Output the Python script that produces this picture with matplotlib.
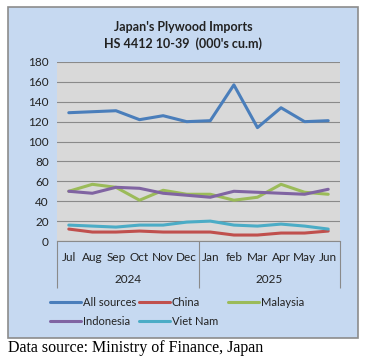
import matplotlib
matplotlib.use("Agg")
import matplotlib.pyplot as plt
from matplotlib.patches import Rectangle
from matplotlib.transforms import blended_transform_factory

# data (000's cu.m)
months = ["Jul", "Aug", "Sep", "Oct", "Nov", "Dec", "Jan", "feb", "Mar", "Apr", "May", "Jun"]
years = ["2024", "2025"]
all_sources = [129, 130, 131, 122, 126, 120, 121, 157, 114, 134, 120, 121]
china = [12, 9, 9, 10, 9, 9, 9, 6, 6, 8, 8, 10]
malaysia = [50, 57, 54, 41, 51, 47, 47, 41, 44, 57, 49, 47]
indonesia = [50, 48, 54, 53, 48, 46, 44, 50, 49, 48, 47, 52]
viet_nam = [16, 15, 14, 16, 16, 19, 20, 16, 15, 17, 15, 12]

series = [
    ("All sources", all_sources, "#4a7ebb"),
    ("China", china, "#c0504d"),
    ("Malaysia", malaysia, "#9bbb59"),
    ("Indonesia", indonesia, "#8064a2"),
    ("Viet Nam", viet_nam, "#4bacc6"),
]

plt.rcParams['font.family'] = ['Lato', 'DejaVu Sans']

fig = plt.figure(figsize=(3.79, 3.59), dpi=100)
fig.patch.set_facecolor("white")

# outer chart box
W, H = 379, 359
fig.patches.append(Rectangle((8 / W, 1 - 338 / H), 350 / W, 331 / H, transform=fig.transFigure,
                             facecolor="#c6d9f1", edgecolor="#8c8c8c", linewidth=1.2, zorder=-5))

ax = fig.add_axes([57 / W, 1 - 241 / H, 283 / W, 179 / H])
ax.set_zorder(2)
ax.set_facecolor("#d9d9d9")

x = list(range(len(months)))
lines = {}
for name, vals, col in series:
    lines[name], = ax.plot(x, vals, color=col, linewidth=2.2, solid_capstyle="round", label=name)

ax.set_xlim(-0.5, len(months) - 0.5)
ax.set_ylim(0, 180)
ax.set_yticks(range(0, 181, 20))
ax.yaxis.grid(True, color="#8a8a8a", linewidth=0.8)
ax.set_axisbelow(True)
for s in ["top", "right", "left"]:
    ax.spines[s].set_visible(False)
ax.spines["bottom"].set_color("#8a8a8a")
ax.tick_params(axis="y", length=0, pad=6, labelsize=8.5, colors="#222222")

# month labels as minor ticks, group separators as long major ticks
ax.set_xticks([-0.5, 5.5, 11.5])
ax.set_xticklabels(["", "", ""])
ax.tick_params(axis="x", which="major", length=34, color="#8a8a8a", width=0.8)
ax.set_xticks(x, minor=True)
ax.set_xticklabels(months, minor=True)
ax.tick_params(axis="x", which="minor", length=0, pad=8, labelsize=8.5, colors="#222222")

trans = blended_transform_factory(ax.transData, ax.transAxes)
for i, yr in enumerate(years):
    ax.text(2.5 + 6 * i, -0.215, yr, transform=trans, ha="center", va="center",
            fontsize=8.5, color="#222222")

fig.text(183 / W, 1 - 27 / H, "Japan's Plywood Imports", ha="center", va="center",
         fontsize=9, fontweight="bold", color="#222222")
fig.text(183 / W, 1 - 44 / H, "HS 4412 10-39  (000's cu.m)", ha="center", va="center",
         fontsize=9, fontweight="bold", color="#222222")

# legend laid out like Excel: equal-width columns, filled row by row
legend_cols = [["All sources", "Indonesia"], ["China", "Viet Nam"], ["Malaysia"]]
col_left = [50, 139, 228]
for names, left in zip(legend_cols, col_left):
    leg = fig.legend([lines[n] for n in names], names, loc="upper left",
                     bbox_to_anchor=(left / W, 1 - 297 / H), frameon=False, fontsize=8,
                     handlelength=2.8, handletextpad=0.15, labelspacing=0.75,
                     borderaxespad=0, borderpad=0)
    for t in leg.get_texts():
        t.set_color("#222222")

fig.text(8 / W, 1 - 348 / H, "Data source: Ministry of Finance, Japan", ha="left", va="center",
         fontsize=11.5, family=["Liberation Serif", "DejaVu Serif"], color="black")

fig.savefig("out.png", dpi=100)
